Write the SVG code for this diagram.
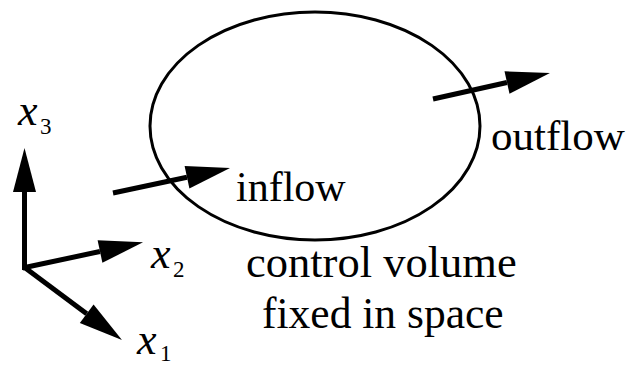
<svg xmlns="http://www.w3.org/2000/svg" width="627" height="366" viewBox="0 0 627 366">
<defs>
<marker id="ah" markerUnits="userSpaceOnUse" markerWidth="44" markerHeight="23" refX="0" refY="11.5" orient="auto" overflow="visible">
<path d="M0,0 L44,11.5 L0,23 z" fill="#000"/>
</marker>
</defs>
<rect width="627" height="366" fill="#fff"/>
<g id="control-volume">
<ellipse cx="315" cy="126" rx="165" ry="114" fill="none" stroke="#000" stroke-width="3"/>
</g>
<g id="connectors" stroke="#000" stroke-width="5" fill="none" marker-end="url(#ah)">
<line x1="24.5" y1="270" x2="24.5" y2="192"/>
<line x1="22.5" y1="268" x2="100" y2="251.5"/>
<line x1="24" y1="267" x2="86.7" y2="313.8"/>
<line x1="113" y1="193" x2="187" y2="177.2"/>
<line x1="433" y1="99" x2="507" y2="82.5"/>
</g>
<g id="axis-x3"><text x="18" y="125" font-family="'Liberation Serif', serif" font-size="44" font-style="italic">x</text><text x="40" y="134" font-family="'Liberation Serif', serif" font-size="23">3</text></g>
<g id="axis-x2"><text x="151" y="268" font-family="'Liberation Serif', serif" font-size="44" font-style="italic">x</text><text x="173" y="277" font-family="'Liberation Serif', serif" font-size="23">2</text></g>
<g id="axis-x1"><text x="137" y="354" font-family="'Liberation Serif', serif" font-size="44" font-style="italic">x</text><text x="160" y="361" font-family="'Liberation Serif', serif" font-size="23">1</text></g>
<g id="inflow"><text x="236" y="201" font-family="'Liberation Serif', serif" font-size="42">inflow</text></g>
<g id="outflow"><text x="491" y="150" font-family="'Liberation Serif', serif" font-size="43">outflow</text></g>
<g id="label"><text x="246" y="277" font-family="'Liberation Serif', serif" font-size="44.5">control volume</text><text x="262" y="328" font-family="'Liberation Serif', serif" font-size="43.5">fixed in space</text></g>
</svg>
